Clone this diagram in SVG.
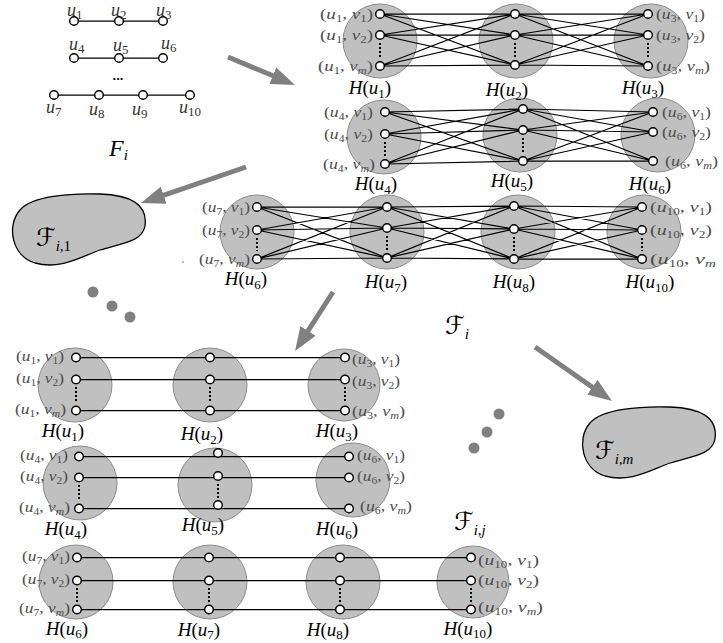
<svg xmlns="http://www.w3.org/2000/svg" width="723" height="643" viewBox="0 0 723 643">
<defs>
<style>
.cl{fill:#c0c0c0;stroke:#8c8c8c;stroke-width:1}
.nd{fill:#fff;stroke:#000;stroke-width:1.4}
.e{stroke:#000;stroke-width:1.25;fill:none}
.vd{stroke:#000;stroke-width:2;stroke-dasharray:2 2}
.lb{font-family:"Liberation Serif",serif;font-style:italic;font-size:15px;fill:#4d4d4d}
.h{font-family:"Liberation Serif",serif;font-style:italic;font-size:19px;fill:#000}
.u{font-family:"Liberation Serif",serif;font-style:italic;font-size:18px;fill:#333}
.n{font-style:normal}
.s{font-style:normal;font-size:10px}
.sh{font-style:normal;font-size:13px}
.si{font-size:10px}
.sf{font-family:"DejaVu Serif","DejaVu Sans",serif;font-size:25px;fill:#000}
.sfs{font-family:"Liberation Serif",serif;font-style:italic;font-size:15px}
.ar{stroke:#808080;stroke-width:5;fill:none}
.dt{fill:#808080}
.blob{fill:#c0c0c0;stroke:#000;stroke-width:1.3}
</style>
<marker id="ah" markerUnits="userSpaceOnUse" markerWidth="24" markerHeight="18" viewBox="0 0 24 18" refX="8" refY="9" orient="auto"><path d="M0,0 L24,9 L0,18 Z" fill="#808080"/></marker>
</defs>
<rect width="723" height="643" fill="#fff"/>

<!-- F_i graph -->
<g id="Fi-graph">
<path class="e" d="M74,21L163,21 M74,58L163,58 M54,95L190,95"/>
<circle class="nd" cx="74" cy="21" r="4.3"/><circle class="nd" cx="119" cy="21" r="4.3"/><circle class="nd" cx="163" cy="21" r="4.3"/>
<circle class="nd" cx="74" cy="58" r="4.3"/><circle class="nd" cx="119" cy="58" r="4.3"/><circle class="nd" cx="163" cy="58" r="4.3"/>
<circle class="nd" cx="54" cy="95" r="4.3"/><circle class="nd" cx="99" cy="95" r="4.3"/><circle class="nd" cx="143" cy="95" r="4.3"/><circle class="nd" cx="190" cy="95" r="4.3"/>
<text class="u" x="67" y="16">u<tspan class="sh" dy="3">1</tspan></text>
<text class="u" x="111" y="16">u<tspan class="sh" dy="3">2</tspan></text>
<text class="u" x="156" y="16">u<tspan class="sh" dy="3">3</tspan></text>
<text class="u" x="69" y="50">u<tspan class="sh" dy="3">4</tspan></text>
<text class="u" x="113" y="51">u<tspan class="sh" dy="3">5</tspan></text>
<text class="u" x="161" y="49">u<tspan class="sh" dy="3">6</tspan></text>
<text x="118" y="80" text-anchor="middle" font-family="Liberation Sans,sans-serif" font-weight="bold" font-size="13" fill="#000">...</text>
<text class="u" x="46" y="113">u<tspan class="sh" dy="3">7</tspan></text>
<text class="u" x="89" y="115">u<tspan class="sh" dy="3">8</tspan></text>
<text class="u" x="132" y="115">u<tspan class="sh" dy="3">9</tspan></text>
<text class="u" x="179" y="113">u<tspan class="sh" dy="3">10</tspan></text>
<text x="109" y="156" font-family="Liberation Serif,serif" font-style="italic" font-size="24" fill="#000">F<tspan font-size="15" dy="4">i</tspan></text>
</g>

<!-- cluster hulls (drawn beneath connectors) -->
<g id="hulls">
<circle id="hull-T-u1" class="cl" cx="380" cy="41" r="37"/>
<circle id="hull-T-u2" class="cl" cx="516" cy="41" r="37"/>
<circle id="hull-T-u3" class="cl" cx="651" cy="41" r="37"/>
<circle id="hull-T-u4" class="cl" cx="384" cy="137" r="37"/>
<circle id="hull-T-u5" class="cl" cx="520" cy="135" r="37"/>
<circle id="hull-T-u6" class="cl" cx="658" cy="135" r="37"/>
<circle id="hull-T-u6b" class="cl" cx="257" cy="232" r="37"/>
<circle id="hull-T-u7" class="cl" cx="387" cy="232" r="37"/>
<circle id="hull-T-u8" class="cl" cx="518" cy="232" r="37"/>
<circle id="hull-T-u10" class="cl" cx="644" cy="232" r="37"/>
<circle id="hull-B-u1" class="cl" cx="75" cy="385" r="37"/>
<circle id="hull-B-u2" class="cl" cx="210" cy="385" r="37"/>
<circle id="hull-B-u3" class="cl" cx="344" cy="385" r="36"/>
<circle id="hull-B-u4" class="cl" cx="80" cy="483" r="37"/>
<circle id="hull-B-u5" class="cl" cx="215" cy="485" r="37"/>
<circle id="hull-B-u6" class="cl" cx="353" cy="480" r="37"/>
<circle id="hull-B-u6b" class="cl" cx="76" cy="582" r="37"/>
<circle id="hull-B-u7" class="cl" cx="210" cy="582" r="37"/>
<circle id="hull-B-u8" class="cl" cx="343" cy="582" r="37"/>
<circle id="hull-B-u10" class="cl" cx="473" cy="582" r="36"/>
</g>

<!-- connectors -->
<g id="connectors">
<path class="e" d="M380,14L515,14 M380,14L515,35 M380,14L515,65 M380,35L515,14 M380,35L515,35 M380,35L515,65 M380,66L515,14 M380,66L515,35 M380,66L515,65 M515,14L648,14 M515,14L648,35 M515,14L648,66 M515,35L648,14 M515,35L648,35 M515,35L648,66 M515,65L648,14 M515,65L648,35 M515,65L648,66"/>
<path class="e" d="M385,112L523,109 M385,112L523,130 M385,112L523,161 M385,134L523,109 M385,134L523,130 M385,134L523,161 M385,164L523,109 M385,164L523,130 M385,164L523,161 M523,109L653,112 M523,109L653,132 M523,109L653,161 M523,130L653,112 M523,130L653,132 M523,130L653,161 M523,161L653,112 M523,161L653,132 M523,161L653,161"/>
<path class="e" d="M257,207L387,207 M257,207L387,228 M257,207L387,258 M257,230L387,207 M257,230L387,228 M257,230L387,258 M257,259L387,207 M257,259L387,228 M257,259L387,258 M387,207L514,206 M387,207L514,229 M387,207L514,259 M387,228L514,206 M387,228L514,229 M387,228L514,259 M387,258L514,206 M387,258L514,229 M387,258L514,259 M514,206L642,207 M514,206L642,230 M514,206L642,259 M514,229L642,207 M514,229L642,230 M514,229L642,259 M514,259L642,207 M514,259L642,230 M514,259L642,259"/>
<path class="e" d="M76,357.5L345,357.5 M76,379.5L345,379.5 M76,410.5L345,410.5"/>
<path class="e" d="M79,456.5L349,456.5 M79,477.5L349,477.5 M79,508.5L349,508.5"/>
<path class="e" d="M77,557.5L471,557.5 M77,580.5L471,580.5 M77,609.5L471,609.5"/>
<line class="ar" x1="228" y1="57" x2="280.2" y2="78.8" marker-end="url(#ah)"/>
<line class="ar" x1="246" y1="167" x2="156.1" y2="197.8" marker-end="url(#ah)"/>
<line class="ar" x1="333" y1="292" x2="303.7" y2="337.6" marker-end="url(#ah)"/>
<line class="ar" x1="535" y1="347" x2="598.9" y2="391.8" marker-end="url(#ah)"/>
</g>

<!-- Top block row 1 -->
<g id="T-Hu1">
<line class="vd" x1="380" y1="43" x2="380" y2="58"/>
<circle class="nd" cx="380" cy="14" r="4.3"/><circle class="nd" cx="380" cy="35" r="4.3"/><circle class="nd" cx="380" cy="66" r="4.3"/>
<text class="lb" x="373" y="19" text-anchor="end" textLength="53" lengthAdjust="spacingAndGlyphs"><tspan class="n">(</tspan>u<tspan class="s" dy="3">1</tspan><tspan class="n" dy="-3">, </tspan>v<tspan class="s" dy="3">1</tspan><tspan class="n" dy="-3">)</tspan></text>
<text class="lb" x="373" y="40" text-anchor="end" textLength="53" lengthAdjust="spacingAndGlyphs"><tspan class="n">(</tspan>u<tspan class="s" dy="3">1</tspan><tspan class="n" dy="-3">, </tspan>v<tspan class="s" dy="3">2</tspan><tspan class="n" dy="-3">)</tspan></text>
<text class="lb" x="373" y="71" text-anchor="end" textLength="55" lengthAdjust="spacingAndGlyphs"><tspan class="n">(</tspan>u<tspan class="s" dy="3">1</tspan><tspan class="n" dy="-3">, </tspan>v<tspan class="si" dy="3">m</tspan><tspan class="n" dy="-3">)</tspan></text>
<text class="h" x="370" y="94" text-anchor="middle">H<tspan class="n">(</tspan>u<tspan class="sh" dy="4">1</tspan><tspan class="n" dy="-4">)</tspan></text>
</g>
<g id="T-Hu2">
<line class="vd" x1="515" y1="43" x2="515" y2="57"/>
<circle class="nd" cx="515" cy="14" r="4.3"/><circle class="nd" cx="515" cy="35" r="4.3"/><circle class="nd" cx="515" cy="65" r="4.3"/>
<text class="h" x="507" y="96" text-anchor="middle">H<tspan class="n">(</tspan>u<tspan class="sh" dy="4">2</tspan><tspan class="n" dy="-4">)</tspan></text>
</g>
<g id="T-Hu3">
<line class="vd" x1="648" y1="43" x2="648" y2="58"/>
<circle class="nd" cx="648" cy="14" r="4.3"/><circle class="nd" cx="648" cy="35" r="4.3"/><circle class="nd" cx="648" cy="66" r="4.3"/>
<text class="lb" x="656" y="19" textLength="49" lengthAdjust="spacingAndGlyphs"><tspan class="n">(</tspan>u<tspan class="s" dy="3">3</tspan><tspan class="n" dy="-3">, </tspan>v<tspan class="s" dy="3">1</tspan><tspan class="n" dy="-3">)</tspan></text>
<text class="lb" x="656" y="40" textLength="49" lengthAdjust="spacingAndGlyphs"><tspan class="n">(</tspan>u<tspan class="s" dy="3">3</tspan><tspan class="n" dy="-3">, </tspan>v<tspan class="s" dy="3">2</tspan><tspan class="n" dy="-3">)</tspan></text>
<text class="lb" x="656" y="71" textLength="54" lengthAdjust="spacingAndGlyphs"><tspan class="n">(</tspan>u<tspan class="s" dy="3">3</tspan><tspan class="n" dy="-3">, </tspan>v<tspan class="si" dy="3">m</tspan><tspan class="n" dy="-3">)</tspan></text>
<text class="h" x="643" y="94" text-anchor="middle">H<tspan class="n">(</tspan>u<tspan class="sh" dy="4">3</tspan><tspan class="n" dy="-4">)</tspan></text>
</g>
<!-- Top block row 2 -->
<g id="T-Hu4">
<line class="vd" x1="385" y1="142" x2="385" y2="156"/>
<circle class="nd" cx="385" cy="112" r="4.3"/><circle class="nd" cx="385" cy="134" r="4.3"/><circle class="nd" cx="385" cy="164" r="4.3"/>
<text class="lb" x="373" y="117" text-anchor="end" textLength="49" lengthAdjust="spacingAndGlyphs"><tspan class="n">(</tspan>u<tspan class="s" dy="3">4</tspan><tspan class="n" dy="-3">, </tspan>v<tspan class="s" dy="3">1</tspan><tspan class="n" dy="-3">)</tspan></text>
<text class="lb" x="373" y="139" text-anchor="end" textLength="49" lengthAdjust="spacingAndGlyphs"><tspan class="n">(</tspan>u<tspan class="s" dy="3">4</tspan><tspan class="n" dy="-3">, </tspan>v<tspan class="s" dy="3">2</tspan><tspan class="n" dy="-3">)</tspan></text>
<text class="lb" x="375" y="169" text-anchor="end" textLength="52" lengthAdjust="spacingAndGlyphs"><tspan class="n">(</tspan>u<tspan class="s" dy="3">4</tspan><tspan class="n" dy="-3">, </tspan>v<tspan class="si" dy="3">m</tspan><tspan class="n" dy="-3">)</tspan></text>
<text class="h" x="376" y="190" text-anchor="middle">H<tspan class="n">(</tspan>u<tspan class="sh" dy="4">4</tspan><tspan class="n" dy="-4">)</tspan></text>
</g>
<g id="T-Hu5">
<line class="vd" x1="523" y1="138" x2="523" y2="153"/>
<circle class="nd" cx="523" cy="109" r="4.3"/><circle class="nd" cx="523" cy="130" r="4.3"/><circle class="nd" cx="523" cy="161" r="4.3"/>
<text class="h" x="512" y="187" text-anchor="middle">H<tspan class="n">(</tspan>u<tspan class="sh" dy="4">5</tspan><tspan class="n" dy="-4">)</tspan></text>
</g>
<g id="T-Hu6">
<circle class="nd" cx="653" cy="112" r="4.3"/><circle class="nd" cx="653" cy="132" r="4.3"/><circle class="nd" cx="653" cy="161" r="4.3"/>
<text class="lb" x="662" y="117" textLength="49" lengthAdjust="spacingAndGlyphs"><tspan class="n">(</tspan>u<tspan class="s" dy="3">6</tspan><tspan class="n" dy="-3">, </tspan>v<tspan class="s" dy="3">1</tspan><tspan class="n" dy="-3">)</tspan></text>
<text class="lb" x="662" y="137" textLength="49" lengthAdjust="spacingAndGlyphs"><tspan class="n">(</tspan>u<tspan class="s" dy="3">6</tspan><tspan class="n" dy="-3">, </tspan>v<tspan class="s" dy="3">2</tspan><tspan class="n" dy="-3">)</tspan></text>
<text class="lb" x="665" y="166" textLength="53" lengthAdjust="spacingAndGlyphs"><tspan class="n">(</tspan>u<tspan class="s" dy="3">6</tspan><tspan class="n" dy="-3">, </tspan>v<tspan class="si" dy="3">m</tspan><tspan class="n" dy="-3">)</tspan></text>
<text class="h" x="650" y="190" text-anchor="middle">H<tspan class="n">(</tspan>u<tspan class="sh" dy="4">6</tspan><tspan class="n" dy="-4">)</tspan></text>
</g>
<!-- Top block row 3 -->
<g id="T-Hu6b">
<line class="vd" x1="257" y1="238" x2="257" y2="251"/>
<circle class="nd" cx="257" cy="207" r="4.3"/><circle class="nd" cx="257" cy="230" r="4.3"/><circle class="nd" cx="257" cy="259" r="4.3"/>
<text class="lb" x="250" y="212" text-anchor="end" textLength="48" lengthAdjust="spacingAndGlyphs"><tspan class="n">(</tspan>u<tspan class="s" dy="3">7</tspan><tspan class="n" dy="-3">, </tspan>v<tspan class="s" dy="3">1</tspan><tspan class="n" dy="-3">)</tspan></text>
<text class="lb" x="250" y="235" text-anchor="end" textLength="48" lengthAdjust="spacingAndGlyphs"><tspan class="n">(</tspan>u<tspan class="s" dy="3">7</tspan><tspan class="n" dy="-3">, </tspan>v<tspan class="s" dy="3">2</tspan><tspan class="n" dy="-3">)</tspan></text>
<text class="lb" x="250" y="264" text-anchor="end" textLength="51" lengthAdjust="spacingAndGlyphs"><tspan class="n">(</tspan>u<tspan class="s" dy="3">7</tspan><tspan class="n" dy="-3">, </tspan>v<tspan class="si" dy="3">m</tspan><tspan class="n" dy="-3">)</tspan></text>
<text class="h" x="246" y="285" text-anchor="middle">H<tspan class="n">(</tspan>u<tspan class="sh" dy="4">6</tspan><tspan class="n" dy="-4">)</tspan></text>
</g>
<g id="T-Hu7">
<line class="vd" x1="387" y1="236" x2="387" y2="250"/>
<circle class="nd" cx="387" cy="207" r="4.3"/><circle class="nd" cx="387" cy="228" r="4.3"/><circle class="nd" cx="387" cy="258" r="4.3"/>
<text class="h" x="386" y="288" text-anchor="middle">H<tspan class="n">(</tspan>u<tspan class="sh" dy="4">7</tspan><tspan class="n" dy="-4">)</tspan></text>
</g>
<g id="T-Hu8">
<line class="vd" x1="514" y1="237" x2="514" y2="251"/>
<circle class="nd" cx="514" cy="206" r="4.3"/><circle class="nd" cx="514" cy="229" r="4.3"/><circle class="nd" cx="514" cy="259" r="4.3"/>
<text class="h" x="514" y="288" text-anchor="middle">H<tspan class="n">(</tspan>u<tspan class="sh" dy="4">8</tspan><tspan class="n" dy="-4">)</tspan></text>
</g>
<g id="T-Hu10">
<line class="vd" x1="642" y1="238" x2="642" y2="251"/>
<circle class="nd" cx="642" cy="207" r="4.3"/><circle class="nd" cx="642" cy="230" r="4.3"/><circle class="nd" cx="642" cy="259" r="4.3"/>
<text class="lb" x="650" y="212" textLength="62" lengthAdjust="spacingAndGlyphs"><tspan class="n">(</tspan>u<tspan class="s" dy="3">10</tspan><tspan class="n" dy="-3">, </tspan>v<tspan class="s" dy="3">1</tspan><tspan class="n" dy="-3">)</tspan></text>
<text class="lb" x="650" y="235" textLength="62" lengthAdjust="spacingAndGlyphs"><tspan class="n">(</tspan>u<tspan class="s" dy="3">10</tspan><tspan class="n" dy="-3">, </tspan>v<tspan class="s" dy="3">2</tspan><tspan class="n" dy="-3">)</tspan></text>
<text class="lb" x="650" y="264" textLength="66" lengthAdjust="spacingAndGlyphs"><tspan class="n">(</tspan>u<tspan class="s" dy="3">10</tspan><tspan class="n" dy="-3">, </tspan>v<tspan class="si" dy="3">m</tspan></text>
<text class="h" x="650" y="288" text-anchor="middle">H<tspan class="n">(</tspan>u<tspan class="sh" dy="4">10</tspan><tspan class="n" dy="-4">)</tspan></text>
</g>

<!-- Bottom block row A -->
<g id="B-Hu1">
<line class="vd" x1="76" y1="387" x2="76" y2="402"/>
<circle class="nd" cx="76" cy="357.5" r="4.3"/><circle class="nd" cx="76" cy="379.5" r="4.3"/><circle class="nd" cx="76" cy="410.5" r="4.3"/>
<text class="lb" x="64" y="361" text-anchor="end" textLength="48" lengthAdjust="spacingAndGlyphs"><tspan class="n">(</tspan>u<tspan class="s" dy="3">1</tspan><tspan class="n" dy="-3">, </tspan>v<tspan class="s" dy="3">1</tspan><tspan class="n" dy="-3">)</tspan></text>
<text class="lb" x="64" y="383" text-anchor="end" textLength="48" lengthAdjust="spacingAndGlyphs"><tspan class="n">(</tspan>u<tspan class="s" dy="3">1</tspan><tspan class="n" dy="-3">, </tspan>v<tspan class="s" dy="3">2</tspan><tspan class="n" dy="-3">)</tspan></text>
<text class="lb" x="66" y="414" text-anchor="end" textLength="51" lengthAdjust="spacingAndGlyphs"><tspan class="n">(</tspan>u<tspan class="s" dy="3">1</tspan><tspan class="n" dy="-3">, </tspan>v<tspan class="si" dy="3">m</tspan><tspan class="n" dy="-3">)</tspan></text>
<text class="h" x="63" y="437" text-anchor="middle">H<tspan class="n">(</tspan>u<tspan class="sh" dy="4">1</tspan><tspan class="n" dy="-4">)</tspan></text>
</g>
<g id="B-Hu2">
<line class="vd" x1="210" y1="387" x2="210" y2="402"/>
<circle class="nd" cx="210" cy="357.5" r="4.3"/><circle class="nd" cx="210" cy="379.5" r="4.3"/><circle class="nd" cx="210" cy="410.5" r="4.3"/>
<text class="h" x="202" y="440" text-anchor="middle">H<tspan class="n">(</tspan>u<tspan class="sh" dy="4">2</tspan><tspan class="n" dy="-4">)</tspan></text>
</g>
<g id="B-Hu3">
<line class="vd" x1="345" y1="387" x2="345" y2="402"/>
<circle class="nd" cx="345" cy="357.5" r="4.3"/><circle class="nd" cx="345" cy="379.5" r="4.3"/><circle class="nd" cx="345" cy="410.5" r="4.3"/>
<text class="lb" x="352" y="364" textLength="48" lengthAdjust="spacingAndGlyphs"><tspan class="n">(</tspan>u<tspan class="s" dy="3">3</tspan><tspan class="n" dy="-3">, </tspan>v<tspan class="s" dy="3">1</tspan><tspan class="n" dy="-3">)</tspan></text>
<text class="lb" x="352" y="386" textLength="48" lengthAdjust="spacingAndGlyphs"><tspan class="n">(</tspan>u<tspan class="s" dy="3">3</tspan><tspan class="n" dy="-3">, </tspan>v<tspan class="s" dy="3">2</tspan><tspan class="n" dy="-3">)</tspan></text>
<text class="lb" x="352" y="416" textLength="53" lengthAdjust="spacingAndGlyphs"><tspan class="n">(</tspan>u<tspan class="s" dy="3">3</tspan><tspan class="n" dy="-3">, </tspan>v<tspan class="si" dy="3">m</tspan><tspan class="n" dy="-3">)</tspan></text>
<text class="h" x="337" y="437" text-anchor="middle">H<tspan class="n">(</tspan>u<tspan class="sh" dy="4">3</tspan><tspan class="n" dy="-4">)</tspan></text>
</g>
<!-- Bottom row B -->
<g id="B-Hu4">
<line class="vd" x1="79" y1="485" x2="79" y2="500"/>
<circle class="nd" cx="79" cy="456.5" r="4.3"/><circle class="nd" cx="79" cy="477.5" r="4.3"/><circle class="nd" cx="79" cy="508.5" r="4.3"/>
<text class="lb" x="68" y="460" text-anchor="end" textLength="48" lengthAdjust="spacingAndGlyphs"><tspan class="n">(</tspan>u<tspan class="s" dy="3">4</tspan><tspan class="n" dy="-3">, </tspan>v<tspan class="s" dy="3">1</tspan><tspan class="n" dy="-3">)</tspan></text>
<text class="lb" x="68" y="481" text-anchor="end" textLength="48" lengthAdjust="spacingAndGlyphs"><tspan class="n">(</tspan>u<tspan class="s" dy="3">4</tspan><tspan class="n" dy="-3">, </tspan>v<tspan class="s" dy="3">2</tspan><tspan class="n" dy="-3">)</tspan></text>
<text class="lb" x="70" y="512" text-anchor="end" textLength="51" lengthAdjust="spacingAndGlyphs"><tspan class="n">(</tspan>u<tspan class="s" dy="3">4</tspan><tspan class="n" dy="-3">, </tspan>v<tspan class="si" dy="3">m</tspan><tspan class="n" dy="-3">)</tspan></text>
<text class="h" x="66" y="535" text-anchor="middle">H<tspan class="n">(</tspan>u<tspan class="sh" dy="4">4</tspan><tspan class="n" dy="-4">)</tspan></text>
</g>
<g id="B-Hu5">
<line class="vd" x1="218" y1="484" x2="218" y2="498"/>
<circle class="nd" cx="218" cy="453" r="4.3"/><circle class="nd" cx="218" cy="476" r="4.3"/><circle class="nd" cx="218" cy="505" r="4.3"/>
<text class="h" x="203" y="531" text-anchor="middle">H<tspan class="n">(</tspan>u<tspan class="sh" dy="4">5</tspan><tspan class="n" dy="-4">)</tspan></text>
</g>
<g id="B-Hu6">
<circle class="nd" cx="349" cy="456.5" r="4.3"/><circle class="nd" cx="349" cy="477.5" r="4.3"/><circle class="nd" cx="349" cy="508.5" r="4.3"/>
<text class="lb" x="357" y="460" textLength="48" lengthAdjust="spacingAndGlyphs"><tspan class="n">(</tspan>u<tspan class="s" dy="3">6</tspan><tspan class="n" dy="-3">, </tspan>v<tspan class="s" dy="3">1</tspan><tspan class="n" dy="-3">)</tspan></text>
<text class="lb" x="357" y="481" textLength="48" lengthAdjust="spacingAndGlyphs"><tspan class="n">(</tspan>u<tspan class="s" dy="3">6</tspan><tspan class="n" dy="-3">, </tspan>v<tspan class="s" dy="3">2</tspan><tspan class="n" dy="-3">)</tspan></text>
<text class="lb" x="360" y="511" textLength="52" lengthAdjust="spacingAndGlyphs"><tspan class="n">(</tspan>u<tspan class="s" dy="3">6</tspan><tspan class="n" dy="-3">, </tspan>v<tspan class="si" dy="3">m</tspan><tspan class="n" dy="-3">)</tspan></text>
<text class="h" x="337" y="535" text-anchor="middle">H<tspan class="n">(</tspan>u<tspan class="sh" dy="4">6</tspan><tspan class="n" dy="-4">)</tspan></text>
</g>
<!-- Bottom row C -->
<g id="B-Hu6b">
<line class="vd" x1="77" y1="588" x2="77" y2="602"/>
<circle class="nd" cx="77" cy="557.5" r="4.3"/><circle class="nd" cx="77" cy="580.5" r="4.3"/><circle class="nd" cx="77" cy="609.5" r="4.3"/>
<text class="lb" x="70" y="561" text-anchor="end" textLength="48" lengthAdjust="spacingAndGlyphs"><tspan class="n">(</tspan>u<tspan class="s" dy="3">7</tspan><tspan class="n" dy="-3">, </tspan>v<tspan class="s" dy="3">1</tspan><tspan class="n" dy="-3">)</tspan></text>
<text class="lb" x="70" y="584" text-anchor="end" textLength="48" lengthAdjust="spacingAndGlyphs"><tspan class="n">(</tspan>u<tspan class="s" dy="3">7</tspan><tspan class="n" dy="-3">, </tspan>v<tspan class="s" dy="3">2</tspan><tspan class="n" dy="-3">)</tspan></text>
<text class="lb" x="70" y="613" text-anchor="end" textLength="51" lengthAdjust="spacingAndGlyphs"><tspan class="n">(</tspan>u<tspan class="s" dy="3">7</tspan><tspan class="n" dy="-3">, </tspan>v<tspan class="si" dy="3">m</tspan><tspan class="n" dy="-3">)</tspan></text>
<text class="h" x="67" y="635" text-anchor="middle">H<tspan class="n">(</tspan>u<tspan class="sh" dy="3">6</tspan><tspan class="n" dy="-3">)</tspan></text>
</g>
<g id="B-Hu7">
<line class="vd" x1="209" y1="588" x2="209" y2="602"/>
<circle class="nd" cx="209" cy="557.5" r="4.3"/><circle class="nd" cx="209" cy="580.5" r="4.3"/><circle class="nd" cx="209" cy="609.5" r="4.3"/>
<text class="h" x="199" y="636" text-anchor="middle">H<tspan class="n">(</tspan>u<tspan class="sh" dy="3">7</tspan><tspan class="n" dy="-3">)</tspan></text>
</g>
<g id="B-Hu8">
<line class="vd" x1="340" y1="588" x2="340" y2="602"/>
<circle class="nd" cx="340" cy="557.5" r="4.3"/><circle class="nd" cx="340" cy="580.5" r="4.3"/><circle class="nd" cx="340" cy="609.5" r="4.3"/>
<text class="h" x="328" y="636" text-anchor="middle">H<tspan class="n">(</tspan>u<tspan class="sh" dy="3">8</tspan><tspan class="n" dy="-3">)</tspan></text>
</g>
<g id="B-Hu10">
<line class="vd" x1="471" y1="588" x2="471" y2="602"/>
<circle class="nd" cx="471" cy="557.5" r="4.3"/><circle class="nd" cx="471" cy="580.5" r="4.3"/><circle class="nd" cx="471" cy="609.5" r="4.3"/>
<text class="lb" x="478" y="565" textLength="61" lengthAdjust="spacingAndGlyphs"><tspan class="n">(</tspan>u<tspan class="s" dy="3">10</tspan><tspan class="n" dy="-3">, </tspan>v<tspan class="s" dy="3">1</tspan><tspan class="n" dy="-3">)</tspan></text>
<text class="lb" x="478" y="585" textLength="61" lengthAdjust="spacingAndGlyphs"><tspan class="n">(</tspan>u<tspan class="s" dy="3">10</tspan><tspan class="n" dy="-3">, </tspan>v<tspan class="s" dy="3">2</tspan><tspan class="n" dy="-3">)</tspan></text>
<text class="lb" x="478" y="612" textLength="65" lengthAdjust="spacingAndGlyphs"><tspan class="n">(</tspan>u<tspan class="s" dy="3">10</tspan><tspan class="n" dy="-3">, </tspan>v<tspan class="si" dy="3">m</tspan><tspan class="n" dy="-3">)</tspan></text>
<text class="h" x="468" y="635" text-anchor="middle">H<tspan class="n">(</tspan>u<tspan class="sh" dy="3">10</tspan><tspan class="n" dy="-3">)</tspan></text>
</g>

<!-- blobs -->
<g id="F-i1">
<path class="blob" d="M20,210 C32,196 70,193 100,194 C130,195 148,204 145,226 C142,242 122,243 100,250 C80,257 60,270 35,263 C12,256 6,226 20,210 Z"/>
<text class="sf" x="36" y="246">ℱ<tspan class="sfs" dy="5">i,</tspan><tspan class="sfs" style="font-style:normal">1</tspan></text>
</g>
<g id="F-im">
<path class="blob" d="M590,423 C602,409 640,406 670,407 C700,408 718,417 715,439 C712,455 692,456 670,463 C650,470 630,483 605,476 C582,469 576,439 590,423 Z"/>
<text class="sf" x="595" y="459">ℱ<tspan class="sfs" dy="5">i,m</tspan></text>
</g>
<g id="F-i">
<text class="sf" x="445" y="334">ℱ<tspan class="sfs" dy="5">i</tspan></text>
</g>
<g id="F-ij">
<text class="sf" x="454" y="530">ℱ<tspan class="sfs" dy="5">i,j</tspan></text>
</g>

<!-- ellipsis dots -->
<g id="dots">
<circle class="dt" cx="93" cy="292" r="5.5"/><circle class="dt" cx="112" cy="306" r="5.5"/><circle class="dt" cx="130" cy="317" r="5.5"/>
<circle class="dt" cx="499" cy="414" r="5.5"/><circle class="dt" cx="487" cy="432" r="5.5"/><circle class="dt" cx="474" cy="448" r="5.5"/>
<circle cx="183" cy="262" r="0.8" fill="#666"/>
</g>
</svg>
